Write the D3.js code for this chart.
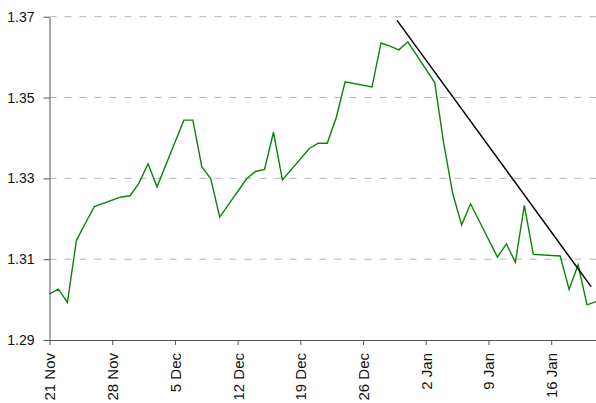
<!DOCTYPE html>
<html>
<head>
<meta charset="utf-8">
<script src="https://cdn.jsdelivr.net/npm/d3@7"></script>
<style>
  body { margin: 0; background: #fff; }
  svg { display: block; font-family: "Liberation Sans", Arial, sans-serif; }
  .axis text { font-size: 14px; fill: #111; }
  .axis path, .axis line { stroke: #555; }
  .x-axis text { font-size: 15px; }
</style>
</head>
<body>
<svg id="chart"></svg>
<script>
// daily closes
var dates = [
  "2010-11-21", "2010-11-22", "2010-11-23", "2010-11-24", "2010-11-25", "2010-11-26",
  "2010-11-29", "2010-11-30", "2010-12-01", "2010-12-02", "2010-12-03",
  "2010-12-06", "2010-12-07", "2010-12-08", "2010-12-09", "2010-12-10",
  "2010-12-13", "2010-12-14", "2010-12-15", "2010-12-16", "2010-12-17",
  "2010-12-20", "2010-12-21", "2010-12-22", "2010-12-23", "2010-12-24",
  "2010-12-27", "2010-12-28", "2010-12-29", "2010-12-30", "2010-12-31",
  "2011-01-03", "2011-01-04", "2011-01-05", "2011-01-06", "2011-01-07",
  "2011-01-10", "2011-01-11", "2011-01-12", "2011-01-13", "2011-01-14",
  "2011-01-17", "2011-01-18", "2011-01-19", "2011-01-20", "2011-01-21"
];
var values = [
  1.3014, 1.3026, 1.2993, 1.3146, 1.3189, 1.3230,
  1.3254, 1.3257, 1.3289, 1.3336, 1.3279,
  1.3444, 1.3444, 1.3329, 1.3299, 1.3204,
  1.3299, 1.3317, 1.3322, 1.3414, 1.3296,
  1.3374, 1.3387, 1.3387, 1.3450, 1.3539,
  1.3526, 1.3635, 1.3627, 1.3618, 1.3638,
  1.3537, 1.3387, 1.3263, 1.3185, 1.3237,
  1.3105, 1.3138, 1.3092, 1.3233, 1.3112,
  1.3108, 1.3025, 1.3086, 1.2987, 1.2995
];

// trend line drawn over the fall
var trendDates = ["2010-12-29T19:00", "2011-01-20T11:00"];
var trendValues = [1.3691, 1.3032];

var yTicks = [1.29, 1.31, 1.33, 1.35, 1.37];
var xStart = "2010-11-21", xEnd = "2011-01-21";

var W = 596, H = 403;
var margin = { top: 16.7, right: 0, bottom: 63, left: 49.5 },
  width = W - margin.left - margin.right,
  height = H - margin.top - margin.bottom;

var parse = d3.isoParse;
var series = dates.map(function (d, i) { return { date: parse(d), value: values[i] }; });
var trend = trendDates.map(function (d, i) { return { date: parse(d), value: trendValues[i] }; });

var svg = d3.select("#chart")
  .attr("width", W)
  .attr("height", H)
  .append("g")
  .attr("transform", "translate(" + margin.left + "," + margin.top + ")");

var x = d3.scaleTime()
  .domain([parse(xStart), parse(xEnd)])
  .range([0, width]);

var y = d3.scaleLinear()
  .domain([yTicks[0], yTicks[yTicks.length - 1]])
  .range([height, 0]);

// dashed gridlines
svg.append("g")
  .selectAll("line")
  .data(yTicks.slice(1))
  .enter()
  .append("line")
  .attr("x1", 0)
  .attr("x2", width)
  .attr("y1", function (d) { return y(d); })
  .attr("y2", function (d) { return y(d); })
  .attr("stroke", "#b4b4b4")
  .attr("stroke-width", 1)
  .attr("stroke-dasharray", "7,8");

var line = d3.line()
  .x(function (d) { return x(d.date); })
  .y(function (d) { return y(d.value); });

svg.append("path")
  .datum(series)
  .attr("fill", "none")
  .attr("stroke", "#078507")
  .attr("stroke-width", 1.4)
  .attr("d", line);

svg.append("path")
  .datum(trend)
  .attr("fill", "none")
  .attr("stroke", "#000")
  .attr("stroke-width", 1.5)
  .attr("d", line);

svg.append("g")
  .attr("class", "axis")
  .call(d3.axisLeft(y)
    .tickValues(yTicks)
    .tickFormat(d3.format(".2f"))
    .tickSizeInner(6)
    .tickSizeOuter(0)
    .tickPadding(9));

var xAxis = svg.append("g")
  .attr("class", "axis x-axis")
  .attr("transform", "translate(0," + height + ")")
  .call(d3.axisBottom(x)
    .ticks(d3.timeWeek.every(1))
    .tickFormat(d3.timeFormat("%-d %b"))
    .tickSizeInner(5)
    .tickSizeOuter(0));

xAxis.selectAll("text")
  .attr("text-anchor", "end")
  .attr("transform", "rotate(-90)")
  .attr("x", -13)
  .attr("y", 0)
  .attr("dy", "0.36em");
</script>
</body>
</html>
